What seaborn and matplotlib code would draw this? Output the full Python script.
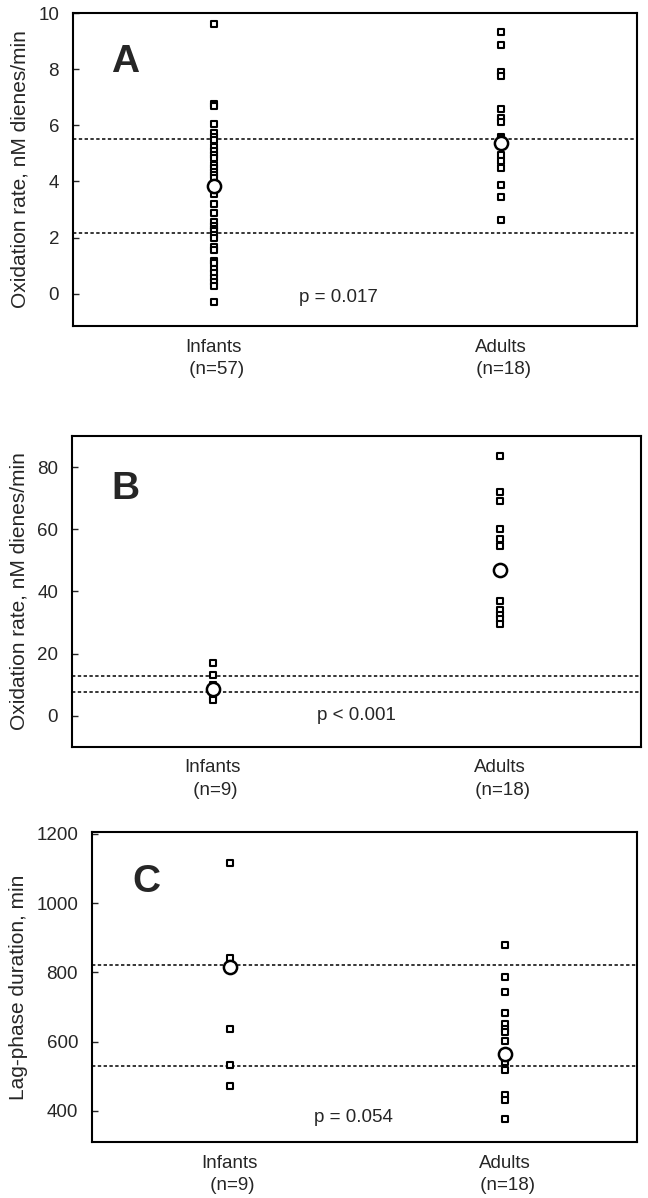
import numpy as np
import pandas as pd
import matplotlib
matplotlib.use("Agg")
import matplotlib.pyplot as plt
import seaborn as sns

# ---------------- data ----------------
groups = ["Infants", "Adults"]

a_infants = [9.6, 6.77, 6.68, 6.04, 5.72, 5.6, 5.48, 5.24, 5.1, 4.95, 4.83, 4.6, 4.47,
             4.35, 4.23, 4.12, 3.95, 3.55, 3.20, 2.89, 2.54, 2.40, 2.3, 2.24, 2.10, 1.98,
             1.68, 1.54, 1.15, 1.1, 0.88, 0.74, 0.55, 0.40, 0.26, -0.30]
a_adults = [9.31, 8.86, 7.91, 7.76, 6.57, 6.25, 6.13, 5.58, 5.5, 4.95, 4.71, 4.47,
            3.88, 3.46, 2.61]
a_means = [3.82, 5.38]
a_lines = [5.5, 2.15]
a_ticks_y = [0, 2, 4, 6, 8, 10]
a_xlabels = ["Infants\n (n=57)", "Adults\n (n=18)"]

b_infants = [17.0, 13.2, 10.0, 8.5, 6.2, 5.0]
b_adults = [83.5, 72.0, 69.0, 60.0, 57.0, 54.5, 37.0, 34.0, 32.5, 31.0, 29.5]
b_means = [8.7, 47.0]
b_lines = [12.9, 7.7]
b_ticks_y = [0, 20, 40, 60, 80]
b_xlabels = ["Infants\n (n=9)", "Adults\n (n=18)"]

c_infants = [1115, 841, 637, 533, 472]
c_adults = [878, 786, 743, 682, 650, 637, 628, 602, 551, 541, 517, 445, 432, 375]
c_means = [815, 565]
c_lines = [822, 530]
c_ticks_y = [400, 600, 800, 1000, 1200]
c_xlabels = ["Infants\n (n=9)", "Adults\n (n=18)"]

panels = [
    dict(letter="A", inf=a_infants, adu=a_adults, means=a_means, lines=a_lines,
         yticks=a_ticks_y, ylim=(-1.15, 10.0), xlab=a_xlabels,
         ylabel="Oxidation rate, nM dienes/min", p="p = 0.017",
         rect=(73, 13, 637, 326), xlim=(-0.49, 1.475), ptxt=(0.47, 0.09), let=(0.068, 0.845)),
    dict(letter="B", inf=b_infants, adu=b_adults, means=b_means, lines=b_lines,
         yticks=b_ticks_y, ylim=(-10, 90), xlab=b_xlabels,
         ylabel="Oxidation rate, nM dienes/min", p="p < 0.001",
         rect=(72, 436, 641, 747), xlim=(-0.49, 1.49), ptxt=(0.5, 0.1), let=(0.07, 0.83)),
    dict(letter="C", inf=c_infants, adu=c_adults, means=c_means, lines=c_lines,
         yticks=c_ticks_y, ylim=(310, 1205), xlab=c_xlabels,
         ylabel="Lag-phase duration, min", p="p = 0.054",
         rect=(92, 832, 637, 1142), xlim=(-0.5, 1.48), ptxt=(0.48, 0.08), let=(0.075, 0.84)),
]

# ---------------- figure ----------------
sns.set_style("white")
plt.rcParams['font.family'] = ['Liberation Sans', 'DejaVu Sans']

W, H = 648, 1198
fig = plt.figure(figsize=(W / 100, H / 100), dpi=100)

for pnl in panels:
    x0, y0, x1, y1 = pnl["rect"]
    ax = fig.add_axes([x0 / W, 1 - y1 / H, (x1 - x0) / W, (y1 - y0) / H])
    df = pd.DataFrame({
        "group": ["Infants"] * len(pnl["inf"]) + ["Adults"] * len(pnl["adu"]),
        "value": list(pnl["inf"]) + list(pnl["adu"]),
    })
    dm = pd.DataFrame({"group": groups, "value": pnl["means"]})

    for yv in pnl["lines"]:
        ax.axhline(yv, color="black", lw=1.1, ls=(0, (2.2, 1.6)), zorder=1)

    sns.stripplot(data=df, x="group", y="value", order=groups, jitter=False,
                  marker="s", size=4.2, color="white", edgecolor="black",
                  linewidth=1.5, ax=ax, zorder=3)
    sns.stripplot(data=dm, x="group", y="value", order=groups, jitter=False,
                  marker="o", size=9.5, color="white", edgecolor="black",
                  linewidth=1.8, ax=ax, zorder=4)

    ax.set_xlim(*pnl["xlim"])
    ax.set_ylim(*pnl["ylim"])
    ax.set_yticks(pnl["yticks"])
    ax.set_yticklabels([str(t) for t in pnl["yticks"]], fontsize=13.5)
    ax.set_xticks([0, 1])
    ax.set_xticklabels(pnl["xlab"], fontsize=13.5, linespacing=1.4)
    ax.tick_params(axis="x", length=0, pad=9)
    ax.tick_params(axis="y", direction="in", length=4, width=1, left=True, pad=10)
    ax.set_xlabel("")
    ax.set_ylabel(pnl["ylabel"], fontsize=15, labelpad=6)
    for s in ax.spines.values():
        s.set_visible(True)
        s.set_linewidth(1.5)
        s.set_color("black")

    ax.text(pnl["let"][0], pnl["let"][1], pnl["letter"], transform=ax.transAxes,
            fontsize=28, fontweight="bold", ha="left", va="center")
    ax.text(pnl["ptxt"][0], pnl["ptxt"][1], pnl["p"], transform=ax.transAxes,
            fontsize=13.5, ha="center", va="center")

fig.savefig("out.png", dpi=100, facecolor="white")
